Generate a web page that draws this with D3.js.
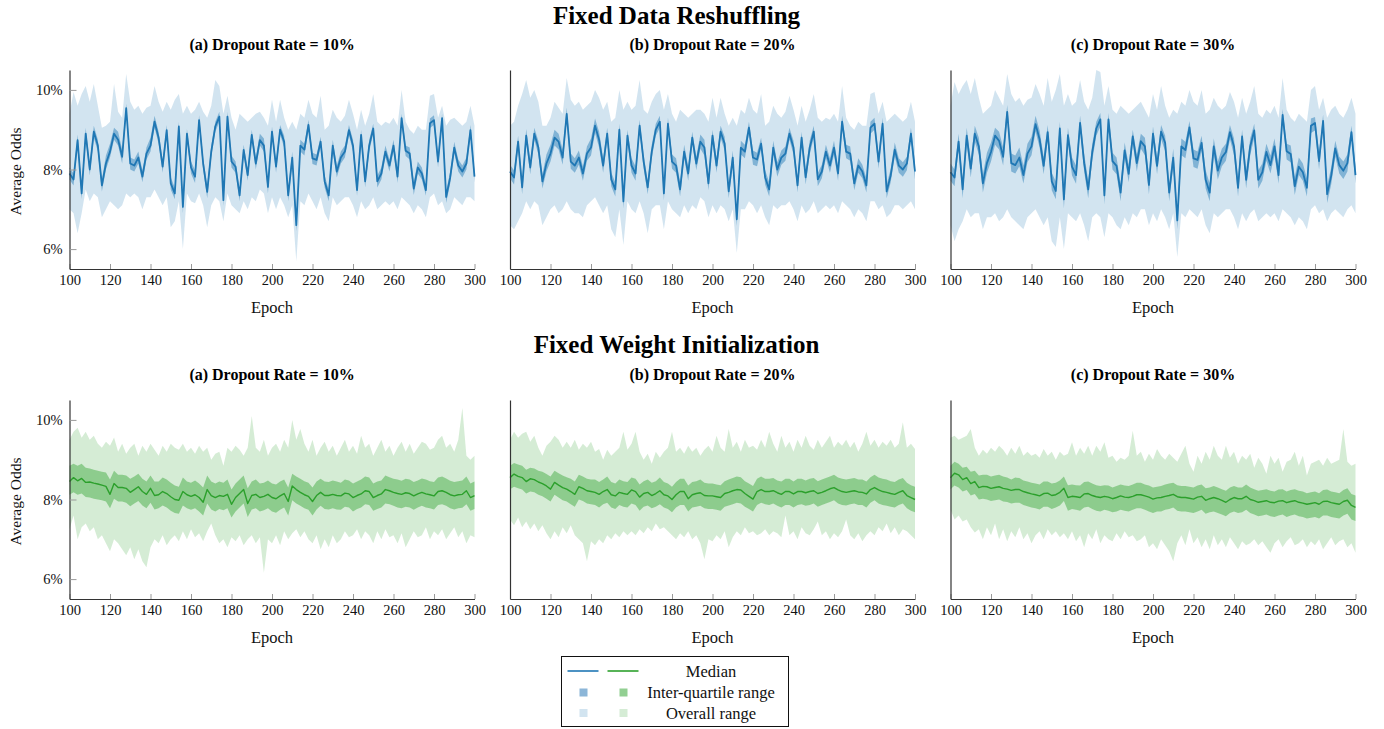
<!DOCTYPE html>
<html><head><meta charset="utf-8">
<script src="https://cdn.jsdelivr.net/npm/d3@7"></script>
<style>body{margin:0;background:#fff}svg{display:block}</style>
</head><body><svg id="chart" width="1384" height="729"></svg>
<script>
// ---------------- DATA ----------------
const epochs = [100,102,104,106,108,110,112,114,116,118,120,122,124,126,128,130,132,134,136,138,140,142,144,146,148,150,152,154,156,158,160,162,164,166,168,170,172,174,176,178,180,182,184,186,188,190,192,194,196,198,200,202,204,206,208,210,212,214,216,218,220,222,224,226,228,230,232,234,236,238,240,242,244,246,248,250,252,254,256,258,260,262,264,266,268,270,272,274,276,278,280,282,284,286,288,290,292,294,296,298,300];
const xTicks = [100,120,140,160,180,200,220,240,260,280,300];
const yTicks = [6,8,10];
const sectionTitles = ["Fixed Data Reshuffling","Fixed Weight Initialization"];
const panelTitles = ["(a) Dropout Rate = 10%","(b) Dropout Rate = 20%","(c) Dropout Rate = 30%"];
const legendLabels = ["Median","Inter-quartile range","Overall range"];
const xLabel = "Epoch", yLabel = "Average Odds";

// Fixed Data Reshuffling, dropout 10%
const reshuffle10Median = [7.9,7.75,8.74,7.4,8.9,8.0,8.95,8.6,7.6,8.15, 8.45,8.9,8.75,8.32,9.54,8.15,8.1,8.3,7.82,8.4, 8.6,9.2,8.8,8.07,8.99,7.65,7.4,9.08,7.06,8.9, 8.05,7.82,9.24,8.15,7.44,8.45,9.08,9.33,7.23,9.33, 8.2,8.07,7.35,8.49,7.86,8.87,8.15,8.74,8.6,7.56, 8.95,8.07,9.0,8.7,7.35,8.3,6.6,8.6,8.5,9.12, 8.28,8.24,8.7,7.7,7.35,8.6,7.95,8.3,8.45,8.99, 8.6,7.48,8.87,7.7,8.6,9.03,7.7,7.9,8.45,8.1, 8.6,7.82,9.29,8.47,8.4,7.52,8.05,7.9,7.48,9.16, 9.24,8.2,9.29,7.31,7.8,8.55,8.1,7.95,8.15,8.99, 7.82];
const reshuffle10Q3 = [8.05,7.9,8.88,7.55,9.05,8.15,9.1,8.75,7.75,8.35, 8.65,9.05,8.95,8.5,9.65,8.3,8.25,8.45,7.98,8.55, 8.8,9.35,8.95,8.22,9.12,7.8,7.55,9.2,7.2,9.02, 8.2,7.98,9.36,8.3,7.6,8.6,9.2,9.45,7.38,9.45, 8.35,8.2,7.5,8.62,8.0,9.0,8.3,8.9,8.78,7.72, 9.08,8.2,9.12,8.85,7.5,8.45,6.75,8.75,8.65,9.25, 8.42,8.38,8.82,7.85,7.5,8.75,8.1,8.45,8.6,9.12, 8.75,7.62,9.0,7.85,8.75,9.15,7.85,8.05,8.6,8.25, 8.75,7.98,9.4,8.6,8.55,7.68,8.2,8.05,7.62,9.28, 9.36,8.35,9.4,7.46,7.95,8.7,8.25,8.1,8.3,9.12, 7.95];
const reshuffle10Q1 = [7.75,7.6,8.6,7.25,8.75,7.85,8.8,8.45,7.45,8.0, 8.3,8.75,8.6,8.15,9.4,8.0,7.95,8.15,7.68,8.25, 8.45,9.05,8.65,7.92,8.85,7.5,7.25,8.95,6.9,8.78, 7.9,7.66,9.1,8.0,7.28,8.3,8.95,9.2,7.08,9.2, 8.05,7.92,7.2,8.36,7.72,8.74,8.0,8.6,8.45,7.4, 8.82,7.92,8.88,8.55,7.2,8.15,6.45,8.45,8.35,8.98, 8.14,8.1,8.56,7.55,7.2,8.45,7.8,8.15,8.3,8.86, 8.45,7.34,8.74,7.55,8.45,8.9,7.55,7.75,8.3,7.95, 8.45,7.66,9.16,8.34,8.25,7.36,7.9,7.75,7.34,9.04, 9.12,8.05,9.16,7.16,7.65,8.4,7.95,7.8,8.0,8.86, 7.68];
const reshuffle10Max = [9.4,9.95,9.6,9.9,10.1,9.7,10.15,9.6,9.05,9.1, 9.2,10.15,9.45,9.3,10.4,9.7,9.5,9.6,9.4,9.55, 9.6,10.1,9.7,9.45,9.7,9.5,9.75,9.9,9.4,9.6, 9.4,9.5,9.7,9.45,9.3,9.6,10.25,10.1,9.4,9.85, 9.3,9.0,9.4,9.3,9.2,9.3,9.4,9.45,9.3,9.1, 9.75,9.2,9.75,9.3,9.0,9.2,9.0,9.4,9.3,9.75, 9.4,9.3,9.85,9.0,9.1,9.5,9.3,9.2,9.35,9.75, 9.4,9.0,9.5,9.1,9.4,9.9,9.2,9.1,9.2,9.15, 9.3,9.1,10.0,9.2,9.0,8.9,9.1,9.0,9.0,9.85, 9.9,9.3,9.6,9.1,9.25,9.3,9.2,9.1,9.2,9.6, 9.1];
const reshuffle10Min = [7.0,6.9,6.4,6.9,7.5,7.2,7.4,7.3,6.8,7.0, 7.2,7.1,7.0,7.1,7.4,7.3,7.4,7.3,7.0,7.3, 7.3,7.5,7.3,7.1,7.3,6.55,6.7,7.2,6.0,7.4, 7.2,7.15,7.4,7.1,6.55,7.1,7.3,7.2,6.7,7.4, 7.1,7.0,6.9,7.2,7.0,7.3,7.2,7.5,7.4,6.9, 7.3,7.0,7.3,7.1,6.8,7.1,5.7,7.2,7.1,7.4, 7.2,7.0,7.3,6.9,6.7,7.3,7.1,7.2,7.3,7.3, 7.1,6.8,7.2,7.0,7.1,7.3,7.0,7.1,7.2,7.1, 7.2,7.0,7.3,7.2,7.1,6.9,7.1,7.0,6.8,7.3, 7.4,7.1,7.2,6.9,7.0,7.3,7.2,7.1,7.3,7.3, 7.2];

// Fixed Data Reshuffling, dropout 20%
const reshuffle20Median = [7.95,7.8,8.7,7.55,8.85,8.05,8.9,8.55,7.7,8.15, 8.4,8.8,8.7,8.3,9.4,8.2,8.1,8.3,7.9,8.4, 8.55,9.1,8.75,8.1,8.9,7.75,7.5,9.0,7.2,8.85, 8.1,7.9,9.1,8.2,7.55,8.45,9.0,9.2,7.4,9.15, 8.2,8.1,7.5,8.45,7.9,8.8,8.15,8.7,8.55,7.65, 8.85,8.1,8.95,8.65,7.45,8.3,6.75,8.55,8.45,9.05, 8.3,8.25,8.65,7.8,7.5,8.55,8.0,8.3,8.4,8.9, 8.55,7.6,8.8,7.8,8.55,8.95,7.75,7.95,8.45,8.1, 8.55,7.9,9.2,8.45,8.4,7.65,8.1,7.95,7.6,9.05, 9.15,8.2,9.15,7.45,7.85,8.5,8.1,8.0,8.15,8.9, 7.95];
const reshuffle20Q3 = [8.12,7.98,8.85,7.72,9.02,8.22,9.05,8.72,7.88,8.38, 8.62,9.0,8.9,8.5,9.55,8.4,8.28,8.48,8.08,8.58, 8.78,9.28,8.95,8.28,9.05,7.92,7.68,9.15,7.38,9.0, 8.28,8.08,9.25,8.38,7.72,8.62,9.15,9.35,7.58,9.3, 8.38,8.28,7.68,8.62,8.08,8.95,8.32,8.88,8.75,7.82, 9.0,8.28,9.1,8.82,7.62,8.48,6.92,8.72,8.62,9.2, 8.48,8.42,8.8,7.98,7.68,8.72,8.18,8.48,8.58,9.05, 8.72,7.78,8.95,7.98,8.72,9.1,7.92,8.12,8.62,8.28, 8.72,8.08,9.35,8.62,8.58,7.82,8.28,8.12,7.78,9.2, 9.3,8.38,9.3,7.62,8.02,8.68,8.28,8.18,8.32,9.05, 8.15];
const reshuffle20Q1 = [7.78,7.62,8.55,7.38,8.68,7.88,8.75,8.38,7.52,7.95, 8.2,8.6,8.5,8.12,9.25,8.02,7.92,8.12,7.72,8.22, 8.35,8.92,8.55,7.92,8.75,7.58,7.32,8.85,7.02,8.7, 7.92,7.72,8.95,8.02,7.38,8.28,8.85,9.05,7.22,9.0, 8.02,7.92,7.32,8.28,7.72,8.65,7.98,8.52,8.35,7.48, 8.7,7.92,8.8,8.48,7.28,8.12,6.58,8.38,8.28,8.9, 8.12,8.08,8.5,7.62,7.32,8.38,7.82,8.12,8.22,8.75, 8.38,7.42,8.65,7.62,8.38,8.8,7.58,7.78,8.28,7.92, 8.38,7.72,9.05,8.28,8.22,7.48,7.92,7.78,7.42,8.9, 9.0,8.02,9.0,7.28,7.68,8.32,7.92,7.82,7.98,8.75, 7.75];
const reshuffle20Max = [9.1,9.2,9.6,9.9,10.25,9.8,10.0,9.7,9.1,9.1, 9.3,9.7,9.55,9.4,10.3,9.75,9.6,9.7,9.5,9.6, 9.7,10.0,9.8,9.5,9.7,9.2,9.3,10.0,9.5,9.7, 9.5,9.6,10.25,9.5,9.4,9.7,9.9,10.0,9.5,9.9, 9.4,9.2,9.5,9.4,9.3,9.4,9.5,9.5,9.4,9.2, 9.8,9.3,9.8,9.4,9.1,9.3,9.1,9.5,9.4,9.8, 9.5,9.4,9.9,9.1,9.2,9.6,9.4,9.3,9.45,9.85, 9.5,9.1,9.6,9.2,9.5,9.9,9.3,9.2,9.3,9.25, 9.4,9.2,10.1,9.3,9.1,9.0,9.2,9.1,9.1,9.9, 9.95,9.4,9.7,9.2,9.3,9.4,9.3,9.2,9.3,9.7, 9.2];
const reshuffle20Min = [6.6,6.5,6.7,6.9,7.2,7.0,7.2,7.1,6.6,6.8, 7.0,7.1,6.9,7.0,7.2,7.0,6.9,6.9,6.8,7.1, 7.2,7.3,7.1,6.9,7.1,6.5,6.3,7.0,6.1,7.2, 7.0,6.9,7.2,6.9,6.4,7.0,7.1,7.1,6.5,7.2, 7.0,6.9,6.8,7.1,6.9,7.1,7.0,7.3,7.2,6.8, 7.1,6.9,7.1,7.0,6.7,7.0,5.9,7.0,7.0,7.2, 7.1,6.9,7.1,6.8,6.6,7.1,7.0,7.1,7.1,7.2, 7.0,6.7,7.1,6.9,7.0,7.2,6.9,7.0,7.1,7.0, 7.1,6.9,7.2,7.1,7.0,6.8,7.0,6.9,6.7,7.2, 7.2,7.0,7.1,6.8,6.9,7.1,7.1,7.0,7.1,7.2, 7.0];

// Fixed Data Reshuffling, dropout 30%
const reshuffle30Median = [7.93,7.8,8.7,7.5,8.85,8.02,8.9,8.58,7.65,8.16, 8.44,8.85,8.72,8.32,9.45,8.16,8.11,8.3,7.86,8.4, 8.58,9.14,8.76,8.09,8.94,7.7,7.46,9.03,7.25,8.86, 8.07,7.86,9.17,8.16,7.5,8.44,9.03,9.26,7.35,9.26, 8.21,8.09,7.42,8.48,7.89,8.83,8.16,8.71,8.58,7.61, 8.9,8.09,8.95,8.67,7.42,8.3,6.72,8.58,8.49,9.06, 8.28,8.24,8.67,7.74,7.42,8.58,7.97,8.3,8.44,8.94, 8.58,7.54,8.83,7.74,8.58,8.98,7.74,7.93,8.44,8.11, 8.58,7.86,9.37,8.46,8.39,7.58,8.07,7.93,7.54,9.1, 9.17,8.21,9.22,7.38,7.84,8.53,8.11,7.97,8.16,8.94, 7.86];
const reshuffle30Q3 = [8.15,8.0,8.9,7.75,9.05,8.25,9.1,8.8,7.88,8.42, 8.68,9.05,8.95,8.55,9.62,8.4,8.35,8.55,8.1,8.65, 8.82,9.35,8.98,8.32,9.12,7.92,7.7,9.2,7.48,9.05, 8.3,8.1,9.35,8.4,7.72,8.65,9.2,9.42,7.58,9.42, 8.42,8.3,7.65,8.68,8.12,9.0,8.38,8.9,8.8,7.85, 9.08,8.3,9.12,8.85,7.65,8.52,6.95,8.78,8.7,9.22, 8.5,8.45,8.85,7.98,7.65,8.78,8.2,8.52,8.65,9.12, 8.78,7.78,9.0,7.98,8.78,9.15,7.98,8.15,8.65,8.35, 8.78,8.1,9.52,8.65,8.6,7.82,8.3,8.15,7.78,9.28, 9.32,8.42,9.38,7.6,8.05,8.72,8.32,8.2,8.38,9.1, 8.08];
const reshuffle30Q1 = [7.72,7.58,8.52,7.28,8.65,7.8,8.7,8.38,7.42,7.92, 8.2,8.62,8.5,8.1,9.28,7.95,7.9,8.08,7.65,8.18, 8.36,8.95,8.55,7.88,8.75,7.48,7.25,8.85,7.02,8.68, 7.85,7.64,8.98,7.95,7.28,8.22,8.85,9.08,7.12,9.08, 8.0,7.88,7.2,8.28,7.68,8.64,7.95,8.52,8.36,7.38, 8.7,7.88,8.76,8.46,7.2,8.08,6.5,8.36,8.28,8.88, 8.06,8.02,8.48,7.52,7.2,8.36,7.75,8.08,8.22,8.76, 8.36,7.32,8.64,7.52,8.36,8.8,7.52,7.72,8.22,7.9, 8.36,7.64,9.18,8.25,8.18,7.36,7.86,7.72,7.32,8.92, 8.98,8.0,9.04,7.16,7.62,8.32,7.9,7.76,7.95,8.76, 7.64];
const reshuffle30Max = [9.6,10.2,9.9,10.1,10.25,9.9,10.3,9.8,9.4,9.5, 9.6,10.0,9.8,9.6,10.4,9.9,9.7,9.8,9.6,9.75, 9.8,10.15,9.9,9.6,10.3,9.7,10.0,10.4,9.6,9.9, 9.6,9.7,10.25,9.7,9.5,9.8,10.5,10.45,9.6,10.1, 9.5,9.4,9.6,9.5,9.4,9.5,9.6,9.7,9.5,9.3, 9.9,9.5,10.1,9.6,9.3,9.5,9.4,9.7,9.6,10.0, 9.7,9.6,10.0,9.4,9.5,9.8,9.6,9.5,9.6,9.95, 9.7,9.3,9.8,9.4,9.7,10.1,9.4,9.3,9.5,9.4, 9.6,9.3,10.3,9.5,9.3,9.2,9.4,9.3,9.2,10.0, 10.1,9.5,9.8,9.3,9.5,9.6,9.4,9.3,9.5,9.8, 9.4];
const reshuffle30Min = [6.6,6.2,6.5,6.7,7.0,6.8,6.9,6.9,6.5,6.8, 6.8,6.9,6.7,6.8,7.0,6.8,6.7,6.6,6.5,6.8, 6.9,7.0,6.8,6.6,6.8,6.2,6.05,6.8,6.0,6.9, 6.8,6.7,6.9,6.6,6.2,6.8,6.9,6.8,6.3,6.9, 6.8,6.6,6.5,6.8,6.6,6.9,6.8,7.0,7.0,6.6, 6.9,6.7,7.0,6.8,6.5,6.9,5.8,6.9,6.8,7.0, 6.9,6.8,7.0,6.6,6.4,6.9,6.8,6.9,7.0,7.0, 6.8,6.5,6.9,6.7,6.9,7.0,6.7,6.8,6.9,6.8, 6.9,6.7,7.0,6.9,6.8,6.6,6.8,6.7,6.5,7.0, 7.1,6.9,7.0,6.7,6.9,7.0,6.9,6.8,7.0,7.1, 6.9];

// Fixed Weight Initialization, dropout 10%
const weights10Median = [8.45,8.55,8.47,8.53,8.43,8.44,8.41,8.39,8.36,8.33, 8.13,8.4,8.3,8.3,8.28,8.18,8.25,8.32,8.2,8.13, 8.28,8.1,8.12,8.2,8.15,8.07,8.0,7.98,8.2,8.12, 8.08,8.12,8.05,7.93,8.25,8.1,8.05,8.1,8.08,8.13, 7.88,8.05,8.15,8.25,7.9,8.1,8.13,8.05,8.08,8.13, 8.05,8.02,8.09,8.15,7.95,8.34,8.25,8.18,8.12,8.08, 7.95,8.1,8.18,8.1,8.1,8.13,8.1,8.09,8.16,8.14, 8.05,8.1,8.14,8.22,8.2,8.05,8.1,8.14,8.25,8.22, 8.18,8.15,8.13,8.17,8.15,8.09,8.14,8.18,8.14,8.12, 8.09,8.2,8.22,8.18,8.12,8.09,8.12,8.13,8.22,8.05, 8.1];
const weights10Q3 = [8.85,8.9,8.85,8.9,8.8,8.78,8.75,8.72,8.7,8.68, 8.5,8.72,8.62,8.62,8.6,8.52,8.58,8.65,8.52,8.45, 8.6,8.45,8.45,8.55,8.5,8.42,8.35,8.32,8.55,8.45, 8.42,8.48,8.4,8.3,8.6,8.45,8.4,8.45,8.42,8.5, 8.25,8.4,8.5,8.6,8.28,8.45,8.5,8.4,8.42,8.48, 8.4,8.38,8.45,8.5,8.3,8.65,8.58,8.52,8.46,8.42, 8.3,8.45,8.52,8.45,8.44,8.48,8.45,8.42,8.5,8.48, 8.4,8.45,8.5,8.58,8.55,8.4,8.45,8.48,8.6,8.56, 8.52,8.5,8.47,8.52,8.5,8.44,8.48,8.53,8.5,8.46, 8.44,8.55,8.58,8.53,8.47,8.44,8.46,8.48,8.58,8.4, 8.45];
const weights10Q1 = [8.12,8.18,8.12,8.15,8.06,8.05,8.02,8.0,7.98,7.95, 7.78,8.02,7.95,7.95,7.92,7.83,7.9,7.96,7.85,7.78, 7.92,7.75,7.78,7.85,7.8,7.72,7.66,7.64,7.85,7.78, 7.74,7.78,7.7,7.6,7.9,7.75,7.7,7.76,7.73,7.78, 7.55,7.7,7.8,7.9,7.56,7.75,7.78,7.7,7.73,7.78, 7.7,7.67,7.74,7.8,7.6,7.98,7.9,7.84,7.78,7.74, 7.6,7.75,7.84,7.76,7.75,7.78,7.75,7.74,7.82,7.8, 7.7,7.76,7.8,7.88,7.86,7.72,7.76,7.8,7.9,7.88, 7.84,7.8,7.78,7.82,7.8,7.74,7.8,7.84,7.8,7.78, 7.75,7.86,7.88,7.84,7.78,7.75,7.78,7.79,7.88,7.72, 7.76];
const weights10Max = [9.5,9.7,9.8,9.55,9.7,9.5,9.6,9.4,9.3,9.45, 9.35,9.56,9.2,9.4,9.15,9.3,9.4,9.1,9.35,9.2, 9.4,9.25,9.1,9.35,9.2,9.4,9.3,9.25,9.4,9.2, 9.3,9.15,9.35,9.2,9.3,9.0,9.15,9.2,8.85,9.3, 9.2,9.35,9.25,9.1,9.3,10.1,9.3,9.2,9.5,9.1, 9.3,9.4,9.2,9.5,9.3,10.0,9.5,9.77,9.4,9.2, 9.5,9.1,9.3,9.45,9.2,9.35,9.1,9.3,9.5,9.2, 9.35,9.15,9.6,9.3,9.4,9.1,9.3,9.5,9.2,9.35, 9.1,9.3,9.45,9.2,9.4,9.15,9.3,9.45,9.4,9.25, 9.3,9.5,9.6,9.3,9.4,9.2,9.5,10.3,9.1,9.0, 9.1];
const weights10Min = [7.25,7.6,7.0,7.3,7.4,7.2,7.3,7.0,7.1,6.9, 6.7,7.0,6.9,6.75,6.6,6.8,6.5,6.75,6.45,6.3, 6.8,7.0,6.9,7.1,6.85,7.0,7.1,6.95,7.2,7.0, 7.25,7.05,7.15,6.95,7.2,7.4,7.1,6.9,7.0,6.8, 7.05,6.95,7.1,6.85,7.0,7.1,6.9,7.05,6.16,7.0, 6.9,7.1,6.85,7.2,7.0,7.15,7.25,7.05,7.2,7.0, 6.9,7.1,6.75,7.0,6.8,7.1,6.9,7.0,7.2,7.05, 7.1,7.25,7.0,7.2,7.1,6.9,7.2,7.0,7.25,7.05, 7.1,6.9,7.15,6.8,7.0,7.2,7.05,7.1,7.3,7.0, 7.2,7.1,7.25,7.0,7.15,7.3,7.05,7.2,6.9,7.1, 7.05];

// Fixed Weight Initialization, dropout 20%
const weights20Median = [8.55,8.64,8.58,8.55,8.45,8.52,8.5,8.44,8.4,8.34, 8.26,8.43,8.36,8.3,8.26,8.2,8.13,8.32,8.28,8.22, 8.2,8.18,8.13,8.2,8.25,8.12,8.09,8.18,8.15,8.13, 8.24,8.2,8.06,8.15,8.18,8.1,8.15,8.22,8.12,8.09, 8.0,8.12,8.2,8.2,8.02,8.12,8.15,8.17,8.1,8.09, 8.09,8.07,8.05,8.15,8.18,8.22,8.25,8.24,8.15,8.08, 8.01,8.2,8.25,8.2,8.2,8.22,8.17,8.13,8.2,8.2, 8.14,8.2,8.2,8.17,8.2,8.22,8.15,8.18,8.22,8.27, 8.3,8.24,8.2,8.18,8.2,8.22,8.19,8.18,8.14,8.25, 8.3,8.24,8.2,8.18,8.15,8.13,8.18,8.22,8.1,8.05, 8.0];
const weights20Q3 = [8.85,8.92,8.88,8.85,8.75,8.8,8.78,8.72,8.7,8.64, 8.58,8.72,8.66,8.6,8.56,8.52,8.45,8.62,8.58,8.52, 8.5,8.5,8.44,8.5,8.58,8.44,8.4,8.5,8.46,8.44, 8.55,8.52,8.38,8.46,8.5,8.42,8.46,8.55,8.44,8.4, 8.32,8.44,8.52,8.52,8.35,8.44,8.46,8.5,8.42,8.4, 8.4,8.38,8.36,8.46,8.5,8.54,8.58,8.56,8.46,8.4, 8.34,8.52,8.58,8.52,8.52,8.54,8.48,8.45,8.52,8.52, 8.45,8.52,8.52,8.48,8.52,8.54,8.46,8.5,8.54,8.58, 8.62,8.55,8.52,8.5,8.52,8.54,8.5,8.5,8.45,8.56, 8.62,8.55,8.52,8.5,8.46,8.44,8.5,8.54,8.42,8.36, 8.32];
const weights20Q1 = [8.26,8.32,8.28,8.25,8.15,8.2,8.18,8.12,8.08,8.02, 7.95,8.12,8.05,7.98,7.95,7.88,7.82,8.0,7.96,7.9, 7.88,7.86,7.8,7.88,7.92,7.8,7.76,7.86,7.82,7.8, 7.9,7.86,7.72,7.82,7.85,7.78,7.82,7.88,7.8,7.76, 7.68,7.8,7.86,7.86,7.7,7.8,7.82,7.84,7.78,7.76, 7.76,7.74,7.72,7.82,7.85,7.88,7.92,7.9,7.82,7.76, 7.7,7.86,7.92,7.88,7.86,7.9,7.84,7.8,7.86,7.86, 7.8,7.86,7.88,7.84,7.86,7.9,7.82,7.86,7.9,7.94, 7.98,7.9,7.86,7.85,7.88,7.9,7.86,7.86,7.8,7.92, 7.98,7.9,7.86,7.84,7.82,7.8,7.86,7.9,7.78,7.72, 7.68];
const weights20Max = [9.5,9.7,9.55,9.65,9.7,9.45,9.6,9.3,9.1,9.35, 9.45,9.6,9.5,9.3,9.45,9.3,9.5,9.25,9.4,9.3, 9.45,9.2,9.27,9.0,9.25,9.1,9.2,9.3,9.7,9.25, 9.4,9.7,9.2,9.0,9.15,8.9,9.2,9.05,9.2,9.3, 9.7,9.2,9.3,9.15,9.35,9.2,9.3,9.1,9.25,9.35, 9.2,9.6,9.3,9.2,9.77,9.3,9.45,9.2,9.5,9.3, 9.35,9.25,9.5,9.3,9.7,9.4,9.2,9.6,9.3,9.45, 9.2,9.5,9.3,9.6,9.35,9.25,9.5,9.3,9.45,9.6, 9.3,9.45,9.35,9.5,9.3,9.45,9.2,9.4,9.7,9.35, 9.5,9.3,9.45,9.35,9.5,9.3,9.4,9.94,9.3,9.4, 9.27];
const weights20Min = [7.5,7.35,7.55,7.3,7.45,7.25,7.4,7.2,7.35,7.15, 7.0,7.2,7.05,7.3,7.15,7.35,7.1,7.0,6.9,6.45, 6.95,6.85,7.0,6.9,7.1,7.0,7.15,7.05,7.2,7.1, 7.2,7.1,7.25,7.15,7.3,7.2,7.4,7.25,7.3,7.2, 7.1,7.0,7.15,7.05,7.2,7.0,7.1,6.9,6.5,7.0, 6.95,7.1,7.0,7.2,6.8,7.05,7.2,7.1,7.3,7.15, 7.2,7.1,7.15,7.25,7.1,7.2,7.15,7.05,7.6,7.1, 7.2,7.0,7.3,7.15,7.1,7.25,7.45,7.1,7.2,7.0, 7.15,7.05,7.2,7.5,7.1,7.0,7.15,6.95,7.1,7.2, 7.1,7.3,7.2,7.4,7.15,7.3,7.1,7.25,7.2,7.1, 7.0];

// Fixed Weight Initialization, dropout 30%
const weights30Median = [8.55,8.66,8.62,8.5,8.55,8.4,8.45,8.3,8.33,8.32, 8.28,8.3,8.32,8.28,8.26,8.23,8.25,8.25,8.2,8.17, 8.14,8.12,8.09,8.15,8.16,8.1,8.12,8.18,8.28,8.05, 8.08,8.07,8.05,8.14,8.15,8.1,8.07,8.05,8.08,8.06, 8.02,8.05,8.09,8.06,8.05,8.08,8.12,8.12,8.09,8.06, 8.01,8.04,8.05,8.08,8.1,8.13,8.07,8.05,8.05,8.03, 8.01,8.06,8.08,7.98,8.02,8.05,8.02,7.98,7.93,8.0, 8.05,8.02,8.02,8.08,8.0,7.97,7.93,7.95,7.97,7.93, 7.92,7.96,7.97,7.92,7.95,7.97,7.93,7.91,7.88,7.9, 7.92,7.88,7.95,7.96,7.92,7.9,7.88,7.95,7.98,7.85, 7.8];
const weights30Q3 = [8.85,8.95,8.9,8.8,8.82,8.7,8.72,8.6,8.62,8.62, 8.58,8.6,8.62,8.58,8.55,8.5,8.55,8.54,8.48,8.45, 8.42,8.4,8.38,8.45,8.45,8.4,8.42,8.48,8.58,8.36, 8.38,8.36,8.35,8.44,8.45,8.4,8.36,8.34,8.36,8.35, 8.3,8.34,8.38,8.35,8.34,8.38,8.42,8.42,8.38,8.35, 8.3,8.32,8.34,8.38,8.4,8.42,8.36,8.34,8.34,8.32, 8.3,8.35,8.38,8.28,8.3,8.34,8.3,8.26,8.22,8.3, 8.34,8.3,8.3,8.38,8.3,8.26,8.22,8.24,8.26,8.22, 8.2,8.25,8.26,8.2,8.24,8.26,8.22,8.2,8.16,8.18, 8.2,8.16,8.24,8.25,8.2,8.18,8.16,8.24,8.28,8.14, 8.1];
const weights30Q1 = [8.26,8.35,8.3,8.2,8.24,8.1,8.14,8.0,8.02,8.0, 7.96,7.98,8.0,7.95,7.94,7.9,7.92,7.92,7.86,7.83, 7.8,7.78,7.75,7.82,7.82,7.76,7.8,7.85,7.96,7.72, 7.76,7.74,7.72,7.8,7.82,7.76,7.72,7.7,7.74,7.72, 7.68,7.7,7.74,7.72,7.7,7.74,7.78,7.78,7.74,7.7, 7.66,7.7,7.7,7.74,7.76,7.8,7.72,7.7,7.7,7.68, 7.66,7.7,7.74,7.64,7.68,7.7,7.66,7.62,7.58,7.66, 7.7,7.66,7.68,7.74,7.66,7.62,7.58,7.6,7.62,7.58, 7.56,7.6,7.62,7.56,7.6,7.62,7.58,7.56,7.52,7.54, 7.56,7.52,7.6,7.6,7.56,7.54,7.52,7.6,7.64,7.5, 7.46];
const weights30Max = [9.55,9.6,9.5,9.55,9.6,9.77,9.3,9.1,9.25,9.15, 9.3,9.2,9.35,9.25,9.1,9.3,9.15,9.35,9.1,9.2, 9.1,9.15,9.05,9.27,9.1,9.2,9.0,9.2,9.1,9.15, 9.44,9.1,9.3,9.15,9.35,9.1,9.35,9.2,9.44,9.05, 9.1,8.95,9.05,9.0,9.1,9.73,9.1,9.2,8.95,9.15, 9.0,9.27,9.1,9.0,9.15,9.05,8.95,9.15,9.35,8.9, 8.7,9.1,8.9,9.2,9.0,9.35,9.1,9.0,9.35,9.05, 9.2,8.9,9.1,9.0,9.15,8.8,9.05,8.9,8.65,9.1, 8.9,9.05,8.7,8.95,9.0,9.2,8.85,9.1,8.6,8.9, 8.95,9.0,8.85,9.05,8.9,8.95,9.0,9.77,8.95,8.85, 8.9];
const weights30Min = [7.75,7.5,7.6,7.45,7.5,7.3,7.17,7.25,7.0,7.3, 7.1,7.4,7.0,7.25,6.95,7.2,7.05,7.3,7.0,7.15, 6.9,7.1,7.2,7.0,7.25,7.1,7.2,7.05,7.15,7.0, 7.2,6.95,7.1,6.8,7.15,7.0,7.25,6.9,7.1,7.0, 6.95,7.15,7.0,7.2,7.05,7.1,6.95,7.0,7.1,6.8, 6.9,6.75,7.0,6.85,6.7,6.45,6.9,7.1,6.85,7.25, 6.9,7.05,6.8,7.0,6.75,7.1,6.85,7.0,6.8,7.05, 6.9,6.75,6.95,6.85,6.9,7.0,6.85,6.95,6.8,6.66, 6.9,7.0,6.8,6.95,7.05,6.85,6.9,7.0,6.8,6.95, 6.85,7.0,6.75,6.9,7.05,6.85,6.95,7.0,6.8,6.9, 6.66];

// ---------------- DRAWING ----------------
const panels = [
  [ {med:reshuffle10Median,q1:reshuffle10Q1,q3:reshuffle10Q3,lo:reshuffle10Min,hi:reshuffle10Max},
    {med:reshuffle20Median,q1:reshuffle20Q1,q3:reshuffle20Q3,lo:reshuffle20Min,hi:reshuffle20Max},
    {med:reshuffle30Median,q1:reshuffle30Q1,q3:reshuffle30Q3,lo:reshuffle30Min,hi:reshuffle30Max} ],
  [ {med:weights10Median,q1:weights10Q1,q3:weights10Q3,lo:weights10Min,hi:weights10Max},
    {med:weights20Median,q1:weights20Q1,q3:weights20Q3,lo:weights20Min,hi:weights20Max},
    {med:weights30Median,q1:weights30Q1,q3:weights30Q3,lo:weights30Min,hi:weights30Max} ]
];

const FONT = '"Liberation Serif","DejaVu Serif","Times New Roman",serif';
const PW = 405, PX = [69.5, 510, 950.5];
const ROWS = [{top:70,bottom:269,title:24,sub:49.5},{top:400,bottom:599,title:353,sub:379.5}];
const palette = [
  {line:"#1f77b4", iqr:"rgba(31,119,180,0.45)", range:"rgba(31,119,180,0.2)", iqrL:"#8cb6d8", rangeL:"#d2e4f0", lw:1.8},
  {line:"#2ca02c", iqr:"rgba(44,160,44,0.42)", range:"rgba(44,160,44,0.2)", iqrL:"#92cf92", rangeL:"#d5ecd5", lw:1.4}
];

const svg = d3.select("#chart").style("font-family", FONT);

ROWS.forEach((R, r) => {
  svg.append("text").attr("x", 676.5).attr("y", R.title).attr("text-anchor","middle")
    .attr("font-size", 25).attr("font-weight","bold").attr("fill","#000").text(sectionTitles[r]);
  panels[r].forEach((d, c) => {
    const col = palette[r];
    const x = d3.scaleLinear().domain([100,300]).range([PX[c], PX[c]+PW]);
    const y = d3.scaleLinear().domain([5.5,10.5]).range([R.bottom, R.top]);
    const n = Math.min(epochs.length, d.med.length, d.q1.length, d.q3.length, d.lo.length, d.hi.length);
    const idx = d3.range(n);
    const g = svg.append("g");
    g.append("path").datum(idx).attr("fill", col.range)
      .attr("d", d3.area().x(i => x(epochs[i])).y0(i => y(d.lo[i])).y1(i => y(d.hi[i])));
    g.append("path").datum(idx).attr("fill", col.iqr)
      .attr("d", d3.area().x(i => x(epochs[i])).y0(i => y(d.q1[i])).y1(i => y(d.q3[i])));
    g.append("path").datum(idx).attr("fill","none").attr("stroke", col.line)
      .attr("stroke-width", col.lw).attr("stroke-linejoin","round")
      .attr("d", d3.line().x(i => x(epochs[i])).y(i => y(d.med[i])));

    // x axis
    const ax = g.append("g").attr("transform", `translate(0,${R.bottom})`)
      .call(d3.axisBottom(x).tickValues(xTicks).tickFormat(d3.format("d"))
        .tickSizeInner(-5).tickSizeOuter(0).tickPadding(6));
    ax.select(".domain").attr("stroke","#333").attr("stroke-width",1.2);
    ax.selectAll(".tick line").attr("stroke","#9a9a9a");
    ax.selectAll(".tick text").attr("font-family", FONT).attr("font-size", 14.5).attr("fill","#111");

    // y axis
    const yAxis = d3.axisLeft(y).tickSizeInner(-7).tickSizeOuter(0).tickPadding(7)
      .tickValues(c === 0 ? yTicks : []).tickFormat(v => v + "%");
    const ay = g.append("g").attr("transform", `translate(${PX[c]},0)`).call(yAxis);
    ay.select(".domain").attr("stroke","#333").attr("stroke-width",1.2);
    ay.selectAll(".tick line").attr("stroke","#9a9a9a");
    ay.selectAll(".tick text").attr("font-family", FONT).attr("font-size", 14.5).attr("fill","#111");

    // labels
    g.append("text").attr("x", PX[c] + PW/2).attr("y", R.sub).attr("text-anchor","middle")
      .attr("font-size", 16).attr("font-weight","bold").attr("fill","#000").text(panelTitles[c]);
    g.append("text").attr("x", PX[c] + PW/2).attr("y", R.bottom + 44).attr("text-anchor","middle")
      .attr("font-size", 16.5).attr("fill","#111").text(xLabel);
    if (c === 0) {
      g.append("text").attr("transform", `translate(21,${(R.top+R.bottom)/2 + 2}) rotate(-90)`)
        .attr("text-anchor","middle").attr("font-size", 15.5).attr("fill","#111").text(yLabel);
    }
  });
});

// legend
const L = svg.append("g");
L.append("rect").attr("x",561.5).attr("y",656.5).attr("width",227).attr("height",70)
  .attr("fill","#fff").attr("stroke","#111").attr("stroke-width",1);
const rowsY = [671, 692.5, 713];
const sx = [583.5, 623.5];
palette.forEach((p, k) => {
  L.append("line").attr("x1", sx[k]-16).attr("x2", sx[k]+15).attr("y1", rowsY[0]).attr("y2", rowsY[0])
    .attr("stroke", p.line).attr("stroke-width", 1.6);
  L.append("rect").attr("x", sx[k]-4).attr("y", rowsY[1]-4).attr("width",8).attr("height",8).attr("fill", p.iqrL);
  L.append("rect").attr("x", sx[k]-4).attr("y", rowsY[2]-4).attr("width",8).attr("height",8).attr("fill", p.rangeL);
});
legendLabels.forEach((t, k) => {
  L.append("text").attr("x", 711).attr("y", rowsY[k] + 5.5).attr("text-anchor","middle")
    .attr("font-size", 16.5).attr("fill","#111").text(t);
});
</script>
</body></html>
